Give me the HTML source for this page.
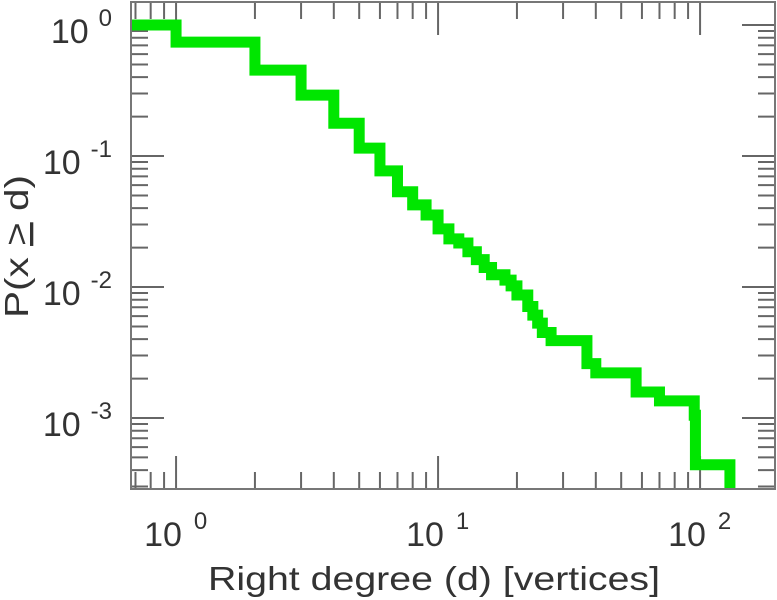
<!DOCTYPE html>
<html><head><meta charset="utf-8"><style>
html,body{margin:0;padding:0;background:#fff;}
svg{display:block;font-family:"Liberation Sans",sans-serif;}
</style></head><body>
<svg id="chart" width="777" height="600">
<g id="ticks"></g>
<g id="series"></g>
<rect x="131" y="2" width="644" height="487" fill="none" stroke="#777" stroke-width="2"/>
<g id="labels"></g>
<text x="208" y="590" font-size="33" fill="#333" textLength="452" lengthAdjust="spacingAndGlyphs">Right degree (d) [vertices]</text>
<text transform="translate(28,318) rotate(-90)" font-size="33" fill="#333" textLength="143" lengthAdjust="spacingAndGlyphs">P(x <tspan text-decoration="underline">&gt;</tspan> d)</text>
</svg>
<script>
const degrees=[0.5,1,2,3,4,5,6,7,8,9,10,11,12,13,14,15,16,18,19,20,22,23,24,25,27,37,40,57,70,95,96];
const probs=[1,0.74,0.453,0.292,0.178,0.115,0.077,0.0534,0.0424,0.0355,0.0278,0.0233,0.0217,0.0186,0.0162,0.0141,0.0124,0.0113,0.0102,0.0087,0.0071,0.0061,0.0053,0.0045,0.0039,0.0026,0.00221,0.00158,0.00135,0.00105,0.00044];
const maxDegree=130;
const xExps=[0,1,2];
const yExps=[0,-1,-2,-3];
const NS="http://www.w3.org/2000/svg";
const L=131,R=775,T=2,B=489;
const xL=-0.172,xR=2.286,yT=0.176,yB=-3.542;
function xs(d){return L+(Math.log10(d)-xL)/(xR-xL)*(R-L);}
function ys(p){return T+(yT-Math.log10(p))/(yT-yB)*(B-T);}
function mk(tag,attrs,parent){const e=document.createElementNS(NS,tag);for(const k in attrs)e.setAttribute(k,attrs[k]);parent.appendChild(e);return e;}
const tg=document.getElementById('ticks');
for(let e=-1;e<=2;e++){for(let m=1;m<10;m++){const v=m*Math.pow(10,e);const x=xs(v);if(x<L||x>R)continue;const len=m===1?33:17;
const t1=mk('line',{x1:x,x2:x,y1:B,y2:B-len,stroke:'#666','stroke-width':2},tg);


const t2=mk('line',{x1:x,x2:x,y1:T,y2:T+len,stroke:'#666','stroke-width':2},tg);

}}
for(let e=-4;e<=0;e++){for(let m=1;m<10;m++){const v=m*Math.pow(10,e);const y=ys(v);if(y<T||y>B)continue;const len=m===1?33:17;
const t1=mk('line',{x1:L,x2:L+len,y1:y,y2:y,stroke:'#666','stroke-width':2},tg);


const t2=mk('line',{x1:R,x2:R-len,y1:y,y2:y,stroke:'#666','stroke-width':2},tg);

}}
let d='';
const x0=Math.max(L,xs(degrees[0]));
d+='M'+x0+','+ys(probs[0]);
for(let i=0;i<degrees.length;i++){
  const xa=i===0?x0:xs(degrees[i]);
  const xb=i+1<degrees.length?xs(degrees[i+1]):xs(maxDegree);
  if(i>0)d+=' L'+xa+','+ys(probs[i]);
  d+=' L'+xb+','+ys(probs[i]);
}
d+=' L'+xs(maxDegree)+','+(B+10);
const sg=document.getElementById('series');
const cp=mk('clipPath',{id:'clip'},sg);mk('rect',{x:L,y:T,width:R-L,height:B-T},cp);
const path=mk('path',{d:d,fill:'none',stroke:'#00e600','stroke-width':11,'stroke-linejoin':'miter','clip-path':'url(#clip)'},sg);


const lg=document.getElementById('labels');
xExps.forEach(e=>{const x=xs(Math.pow(10,e));
const t=mk('text',{x:x-32,y:546,'font-size':34,fill:'#333'},lg);


t.textContent='10';
const s=mk('tspan',{dx:12,dy:-17,'font-size':24},t);s.textContent=String(e);});
yExps.forEach(e=>{const y=ys(Math.pow(10,e));
const t=mk('text',{x:112,y:y+18,'font-size':34,fill:'#333','text-anchor':'end'},lg);


t.textContent='10';
const s=mk('tspan',{dx:10,dy:-17,'font-size':24},t);s.textContent=String(e);});
</script>
</body></html>
